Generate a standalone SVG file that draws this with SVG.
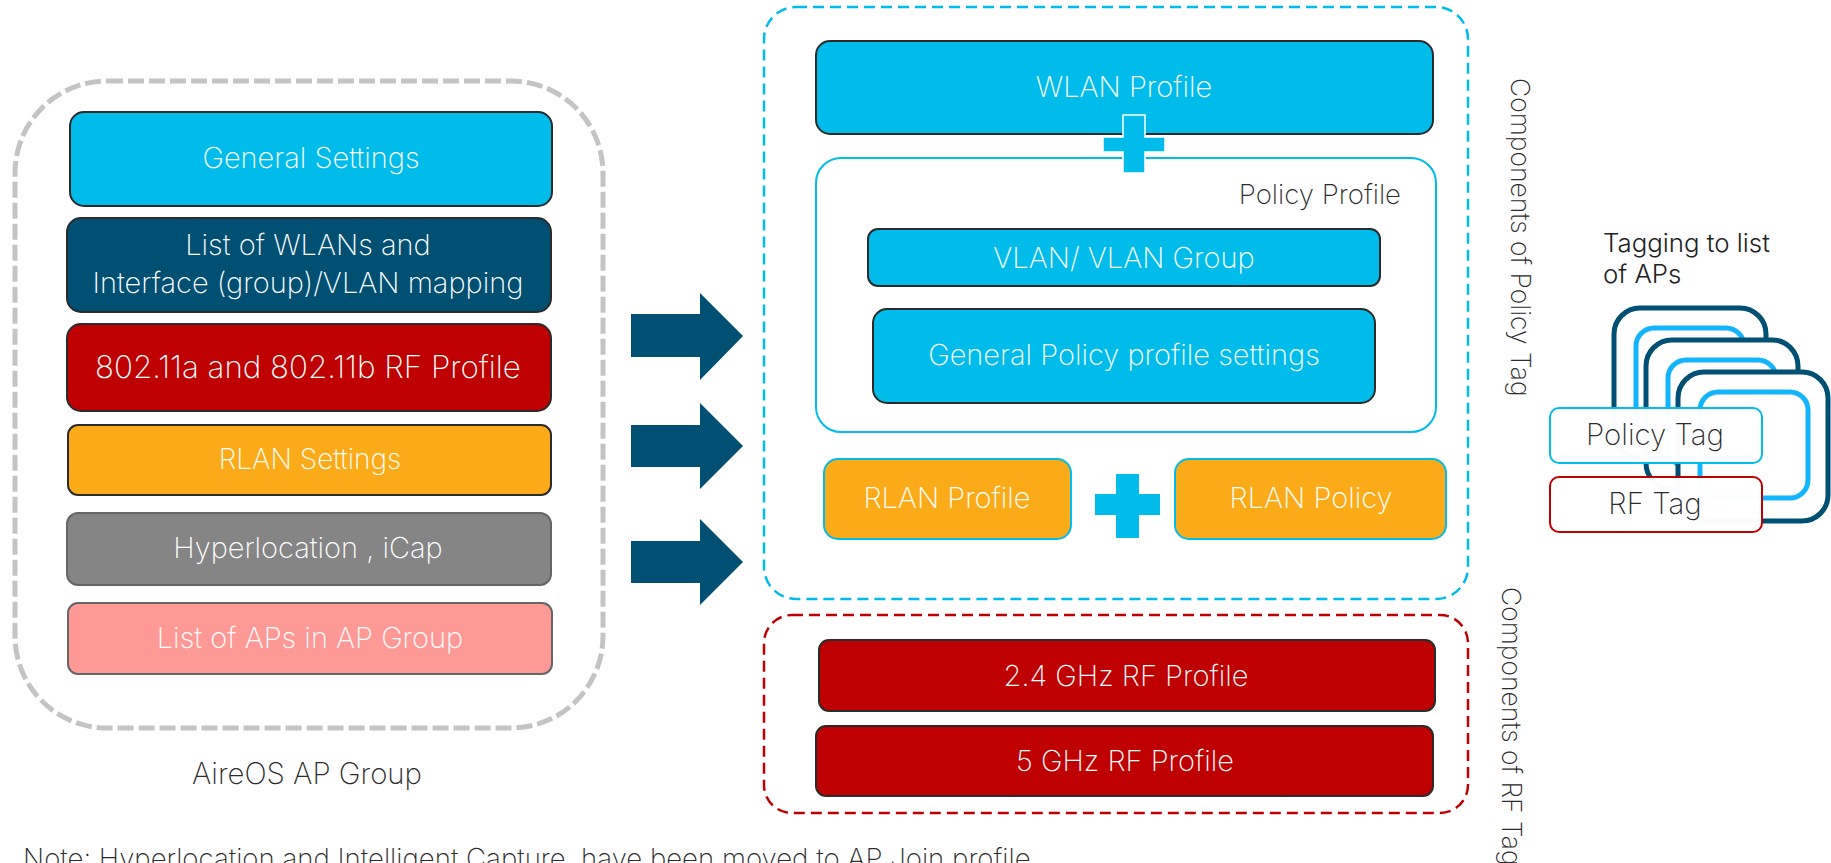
<svg xmlns="http://www.w3.org/2000/svg" width="1831" height="863" viewBox="0 0 1831 863">
<style>
text{font-family:"Inter","Liberation Sans",sans-serif;font-weight:200}
.w{fill:#fff;font-size:29px;text-anchor:middle}
.d{fill:#2b2b2b;font-size:27.6px}
.dl{fill:#2b2b2b;font-size:29.4px}
.v{fill:#2b2b2b;font-size:26.5px}
.m{text-anchor:middle}
.b{stroke:#2b2b2b;stroke-width:2}
.bl{fill:#00bceb}.nv{fill:#005073}.rd{fill:#bf0000}.or{fill:#fbab18}.gy{fill:#858585}.pk{fill:#ff9996}
.out{fill:#fff;stroke:#005073;stroke-width:5}
.inn{fill:#fff;stroke:#14b5ff;stroke-width:5}
</style>
<g id="aireos-group">
<rect x="15" y="81" width="588" height="647" rx="92" fill="none" stroke="#c4c4c4" stroke-width="5" stroke-dasharray="16 5"/>
<text class="dl m" x="307" y="784">AireOS AP Group</text>
</g>
<g id="general-settings"><rect class="b bl" x="70" y="112" width="482" height="94" rx="14"/><text class="w" x="311" y="168">General Settings</text></g>
<g id="wlan-list"><rect class="b nv" x="67" y="218" width="484" height="94" rx="14"/><text class="w" x="308" y="255">List of WLANs and</text><text class="w" x="308" y="293">Interface (group)/VLAN mapping</text></g>
<g id="rf-profile"><rect class="b rd" x="67" y="324" width="484" height="87" rx="14"/><text class="w" x="308" y="378" style="font-size:31.3px">802.11a and 802.11b RF Profile</text></g>
<g id="rlan-settings"><rect class="b or" x="68" y="425" width="483" height="70" rx="10"/><text class="w" x="310" y="469" style="font-size:28px">RLAN Settings</text></g>
<g id="hyperlocation"><rect class="gy" x="67" y="513" width="484" height="72" rx="11" stroke="#666" stroke-width="2"/><text class="w" x="308" y="558">Hyperlocation , iCap</text></g>
<g id="ap-list"><rect class="pk" x="68" y="603" width="484" height="71" rx="10" stroke="#666" stroke-width="2"/><text class="w" x="310" y="648">List of APs in AP Group</text></g>
<g id="connectors">
<path class="nv" d="M631 314H700V293L743 336L700 380V357H631Z"/>
<path class="nv" d="M631 425H700V403L743 446L700 489V467H631Z"/>
<path class="nv" d="M631 541H700V519L743 562L700 605V583H631Z"/>
</g>
<g id="policy-tag-components">
<rect x="764" y="7" width="704" height="592" rx="32" fill="none" stroke="#00bceb" stroke-width="2.5" stroke-dasharray="11 6"/>
<text class="v" transform="translate(1511 78) rotate(90)">Components of Policy Tag</text>
</g>
<g id="wlan-profile"><rect class="b bl" x="816" y="41" width="617" height="93" rx="14"/><text class="w" x="1124" y="97">WLAN Profile</text></g>
<g id="policy-profile"><rect x="816" y="158" width="620" height="274" rx="25" fill="#fff" stroke="#00bceb" stroke-width="2"/><text class="d" text-anchor="end" x="1401" y="204">Policy Profile</text></g>
<g id="plus-top"><path class="bl" d="M1123 115H1145V137H1165V152H1145V173H1123V152H1103V137H1123Z" stroke="#fff" stroke-width="1.5"/></g>
<g id="vlan"><rect class="b bl" x="868" y="229" width="512" height="57" rx="10"/><text class="w" x="1124" y="268">VLAN/ VLAN Group</text></g>
<g id="general-policy"><rect class="b bl" x="873" y="309" width="502" height="94" rx="14"/><text class="w" x="1124" y="365">General Policy profile settings</text></g>
<g id="rlan-profile"><rect class="or" x="824" y="459" width="247" height="80" rx="14" stroke="#00bceb" stroke-width="2"/><text class="w" x="947" y="508">RLAN Profile</text></g>
<g id="plus-bottom"><path class="bl" d="M1116 474H1139V494H1160V515H1139V538H1116V515H1095V494H1116Z"/></g>
<g id="rlan-policy"><rect class="or" x="1175" y="459" width="271" height="80" rx="14" stroke="#00bceb" stroke-width="2"/><text class="w" x="1311" y="508">RLAN Policy</text></g>
<g id="rf-tag-components">
<rect x="764" y="615" width="704" height="198" rx="28" fill="none" stroke="#bf0000" stroke-width="2.5" stroke-dasharray="11 6"/>
<text class="v" transform="translate(1502 587) rotate(90)">Components of RF Tag</text>
</g>
<g id="rf-24"><rect class="b rd" x="819" y="640" width="616" height="71" rx="10"/><text class="w" x="1126" y="686">2.4 GHz RF Profile</text></g>
<g id="rf-5"><rect class="b rd" x="816" y="726" width="617" height="70" rx="10"/><text class="w" x="1125" y="771">5 GHz RF Profile</text></g>
<g id="ap-stack">
<text x="1603" y="252" font-size="25.8" fill="#222" style="font-weight:300">Tagging to list</text>
<text x="1603" y="283" font-size="25.8" fill="#222" style="font-weight:300">of APs</text>
<rect class="out" x="1614" y="308" width="152" height="149" rx="26"/>
<rect class="inn" x="1636" y="328" width="108" height="106" rx="18"/>
<rect class="out" x="1646" y="340" width="152" height="149" rx="26"/>
<rect class="inn" x="1668" y="360" width="108" height="106" rx="18"/>
<rect class="out" x="1678" y="372" width="150" height="149" rx="26"/>
<rect class="inn" x="1700" y="392" width="108" height="106" rx="18"/>
</g>
<g id="policy-tag"><rect x="1550" y="408" width="212" height="55" rx="9" fill="#fff" fill-opacity=".98" stroke="#00bceb" stroke-width="2"/><text class="dl m" x="1655" y="445">Policy Tag</text></g>
<g id="rf-tag"><rect x="1550" y="477" width="212" height="55" rx="9" fill="#fff" fill-opacity=".98" stroke="#bf0000" stroke-width="2"/><text class="dl m" x="1655" y="514">RF Tag</text></g>
<text class="d" x="23" y="868">Note: Hyperlocation and Intelligent Capture, have been moved to AP Join profile</text>
</svg>
